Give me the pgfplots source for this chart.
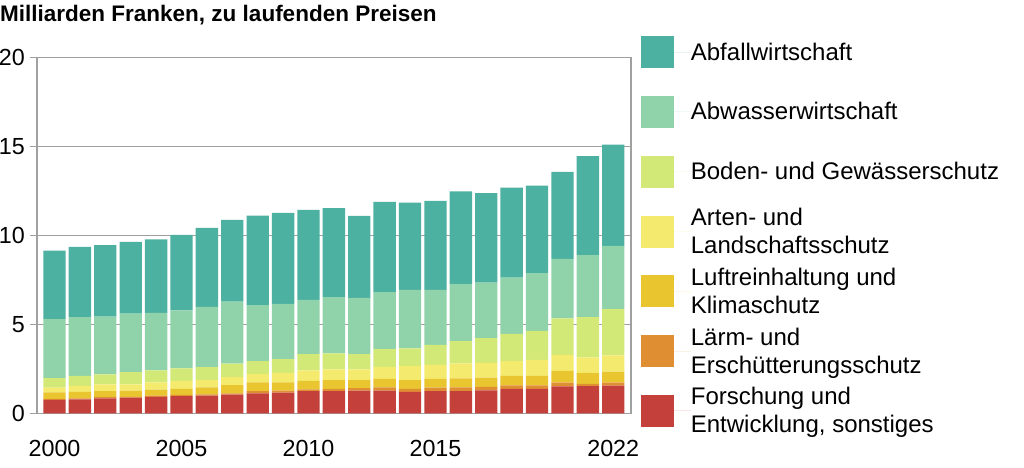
\documentclass[border=0pt]{standalone}
\usepackage{fontspec}
\setmainfont{Liberation Sans}
\usepackage{pgfplots}
\usepackage{pgfplotstable}
\pgfplotsset{compat=1.18}

\definecolor{cAbfall}{RGB}{77,177,161}
\definecolor{cAbwasser}{RGB}{144,211,171}
\definecolor{cBoden}{RGB}{210,233,119}
\definecolor{cArten}{RGB}{244,235,110}
\definecolor{cLuft}{RGB}{233,197,48}
\definecolor{cLaerm}{RGB}{224,142,50}
\definecolor{cForsch}{RGB}{196,64,58}
\definecolor{gridgray}{RGB}{160,160,160}

% Milliarden Franken
\pgfplotstableread{
year F    La   Lu   Ar   Bo   Aw   Af
2000 0.76 0.05 0.36 0.28 0.53 3.31 3.86
2001 0.79 0.05 0.36 0.33 0.58 3.29 3.95
2002 0.84 0.08 0.33 0.38 0.56 3.25 4.01
2003 0.88 0.05 0.34 0.36 0.69 3.29 4.02
2004 0.93 0.06 0.34 0.41 0.68 3.23 4.12
2005 0.97 0.06 0.35 0.44 0.71 3.25 4.25
2006 0.99 0.08 0.39 0.41 0.73 3.38 4.44
2007 1.05 0.07 0.47 0.45 0.75 3.49 4.59
2008 1.12 0.12 0.50 0.47 0.73 3.14 5.03
2009 1.16 0.11 0.47 0.53 0.78 3.10 5.11
2010 1.24 0.11 0.48 0.59 0.90 3.06 5.05
2011 1.25 0.12 0.50 0.60 0.90 3.16 5.01
2012 1.27 0.14 0.46 0.60 0.86 3.16 4.61
2013 1.27 0.19 0.47 0.66 1.02 3.20 5.07
2014 1.21 0.16 0.50 0.79 0.99 3.29 4.90
2015 1.25 0.19 0.49 0.79 1.12 3.10 5.00
2016 1.25 0.21 0.51 0.84 1.25 3.20 5.22
2017 1.29 0.19 0.52 0.84 1.38 3.13 5.02
2018 1.38 0.19 0.53 0.84 1.53 3.16 5.06
2019 1.38 0.19 0.54 0.89 1.63 3.25 4.92
2020 1.52 0.20 0.67 0.90 2.04 3.35 4.89
2021 1.53 0.13 0.61 0.88 2.25 3.49 5.56
2022 1.55 0.17 0.62 0.92 2.59 3.56 5.69
}\data

\begin{document}
\begin{tikzpicture}
\path[use as bounding box] (0,0) rectangle (1024pt,467pt);
\begin{axis}[
    at={(37pt,53.7pt)}, anchor=south west,
    scale only axis,
    width=594pt, height=355.8pt,
    ybar stacked,
    bar width=0.88,
    xmin=1999.31, xmax=2022.70,
    ymin=0, ymax=20,
    ytick={0,5,10,15,20},
    xtick={2000,2005,2010,2015,2022},
    ymajorgrids,
    grid style={gridgray, line width=1.3pt},
    axis line style={gridgray, line width=1.3pt},
    ytick pos=left,
    tick align=outside,
    major tick length=7pt,
    ytick style={gridgray, line width=1.3pt},
    xtick style={draw=none},
    /pgf/number format/assume math mode=true,
    /pgf/number format/1000 sep={},
    tick label style={font=\fontsize{23.3}{26}\selectfont, text=black},
    yticklabel style={inner sep=0pt, xshift=-5pt},
    xticklabel style={inner sep=0pt, yshift=-20pt},
    title={Milliarden Franken, zu laufenden Preisen},
    title style={at={(-0.0623,1.0857)}, anchor=base west, inner sep=0pt,
        font=\bfseries\fontsize{22.5}{27}\selectfont},
    legend image code/.code={
        \fill[#1] (0pt,-16pt) rectangle (33pt,16pt);
        \path (0pt,0pt) -- (49.7pt,0pt);
    },
    reverse legend,
    legend cell align=left,
    legend style={at={(1.0168,1.0998)}, anchor=north west, draw=none,
        fill=none, inner sep=0pt, row sep=0pt,
        nodes={inner sep=0pt, minimum height=59.8pt, align=left,
            font=\fontsize{24}{28}\selectfont}},
]
\addplot[fill=cForsch, draw=none] table[x=year, y=F] {\data};
\addlegendentry{Forschung und\\Entwicklung, sonstiges}
\addplot[fill=cLaerm, draw=none] table[x=year, y=La] {\data};
\addlegendentry{Lärm- und\\Erschütterungsschutz}
\addplot[fill=cLuft, draw=none] table[x=year, y=Lu] {\data};
\addlegendentry{Luftreinhaltung und\\Klimaschutz}
\addplot[fill=cArten, draw=none] table[x=year, y=Ar] {\data};
\addlegendentry{Arten- und\\Landschaftsschutz}
\addplot[fill=cBoden, draw=none] table[x=year, y=Bo] {\data};
\addlegendentry{Boden- und Gewässerschutz}
\addplot[fill=cAbwasser, draw=none] table[x=year, y=Aw] {\data};
\addlegendentry{Abwasserwirtschaft}
\addplot[fill=cAbfall, draw=none] table[x=year, y=Af] {\data};
\addlegendentry{Abfallwirtschaft}
\end{axis}
\end{tikzpicture}
\end{document}
